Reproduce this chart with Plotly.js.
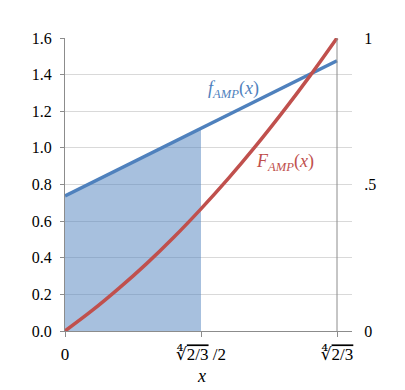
<!DOCTYPE html>
<html>
<head>
<meta charset="utf-8">
<script src="https://cdn.plot.ly/plotly-3.0.1.min.js"></script>
<style>
  html, body { margin: 0; padding: 0; background: #fff; }
  #chart { width: 405px; height: 390px; }
</style>
</head>
<body>
<div id="chart"></div>
<script>
// x positions, fractions of the fourth root of 2/3 (x max = 0.9036)
var xMax = 0.9036;
var xs = [0, 0.0904, 0.1807, 0.2711, 0.3614, 0.4518, 0.5422, 0.6325, 0.7229, 0.8132, 0.9036];

// density f_AMP(x), left axis
var fLineX = [0, 0.9036];
var fLineY = [0.738, 1.476];

// shaded part under f, from 0 to xMax/2
var shadeX = [0, 0.4518];
var shadeY = [0.738, 1.107];

// cumulative F_AMP(x), right axis (0..1)
var cumF = [0, 0.070, 0.147, 0.230, 0.320, 0.417, 0.520, 0.630, 0.747, 0.870, 1.000];

var leftTicks = [0, 0.2, 0.4, 0.6, 0.8, 1.0, 1.2, 1.4, 1.6];
var rightTicks = [0, 0.5, 1];
var rightLabels = ['0', '.5', '1'];
var xTickVals = [0, 0.4518, 0.9036];
var xTickText = ['0',
  '∜<span style="text-decoration:overline">2/3</span> /2',
  '∜<span style="text-decoration:overline">2/3</span>'];

var serif = 'Liberation Serif, DejaVu Serif, serif';
var blue = '#4F81BD';
var red = '#C0504D';
var axisGray = '#8c8c8c';

var traces = [
  {
    x: shadeX, y: shadeY, type: 'scatter', mode: 'lines',
    fill: 'tozeroy', fillcolor: 'rgba(79,129,189,0.5)',
    line: {width: 0}, hoverinfo: 'skip'
  },
  {
    x: fLineX, y: fLineY, type: 'scatter', mode: 'lines',
    line: {color: blue, width: 3.5}
  },
  {
    x: xs, y: cumF, type: 'scatter', mode: 'lines', yaxis: 'y2',
    line: {color: red, width: 3.5, shape: 'spline'}
  }
];

var layout = {
  width: 405, height: 390,
  margin: {l: 65, r: 53, t: 38, b: 59},
  showlegend: false,
  paper_bgcolor: '#fff', plot_bgcolor: '#fff',
  font: {family: serif, size: 16, color: '#000'},
  xaxis: {
    range: [0, xMax * 287 / 272],
    tickvals: xTickVals, ticktext: xTickText,
    tickfont: {family: serif, size: 17, color: '#000'},
    ticks: 'outside', ticklen: 5, tickcolor: axisGray,
    ticklabelstandoff: 3,
    showgrid: false, zeroline: false,
    showline: true, linecolor: axisGray, linewidth: 1
  },
  yaxis: {
    range: [0, 1.6],
    tickvals: leftTicks, tickformat: '.1f',
    ticks: 'outside', ticklen: 4, tickcolor: axisGray,
    ticklabelstandoff: 5,
    showgrid: true, gridcolor: '#d9d9d9', zeroline: false,
    showline: true, linecolor: axisGray, linewidth: 1
  },
  yaxis2: {
    overlaying: 'y', side: 'right', range: [0, 1],
    tickvals: rightTicks, ticktext: rightLabels,
    ticks: 'outside', ticklen: 8, tickcolor: 'rgba(0,0,0,0)',
    showgrid: false, zeroline: false, showline: false
  },
  shapes: [
    {type: 'line', xref: 'x', yref: 'paper', x0: xMax, x1: xMax, y0: 0, y1: 1,
     line: {color: axisGray, width: 1}}
  ],
  annotations: [
    {xref: 'x', yref: 'y', x: 0.56, y: 1.32, showarrow: false,
     text: '<i>f</i><sub><i>AMP</i></sub>(<i>x</i>)',
     font: {family: serif, size: 18, color: blue}},
    {xref: 'x', yref: 'y', x: 0.73, y: 0.92, showarrow: false,
     text: '<i>F</i><sub><i>AMP</i></sub>(<i>x</i>)',
     font: {family: serif, size: 18, color: red}},
    {xref: 'x', yref: 'paper', x: xMax / 2, y: 0, yanchor: 'middle', yshift: -45,
     showarrow: false,
     text: '<i>x</i>', font: {family: serif, size: 18, color: '#000'}}
  ]
};

Plotly.newPlot('chart', traces, layout, {displayModeBar: false, staticPlot: true});
</script>
</body>
</html>
